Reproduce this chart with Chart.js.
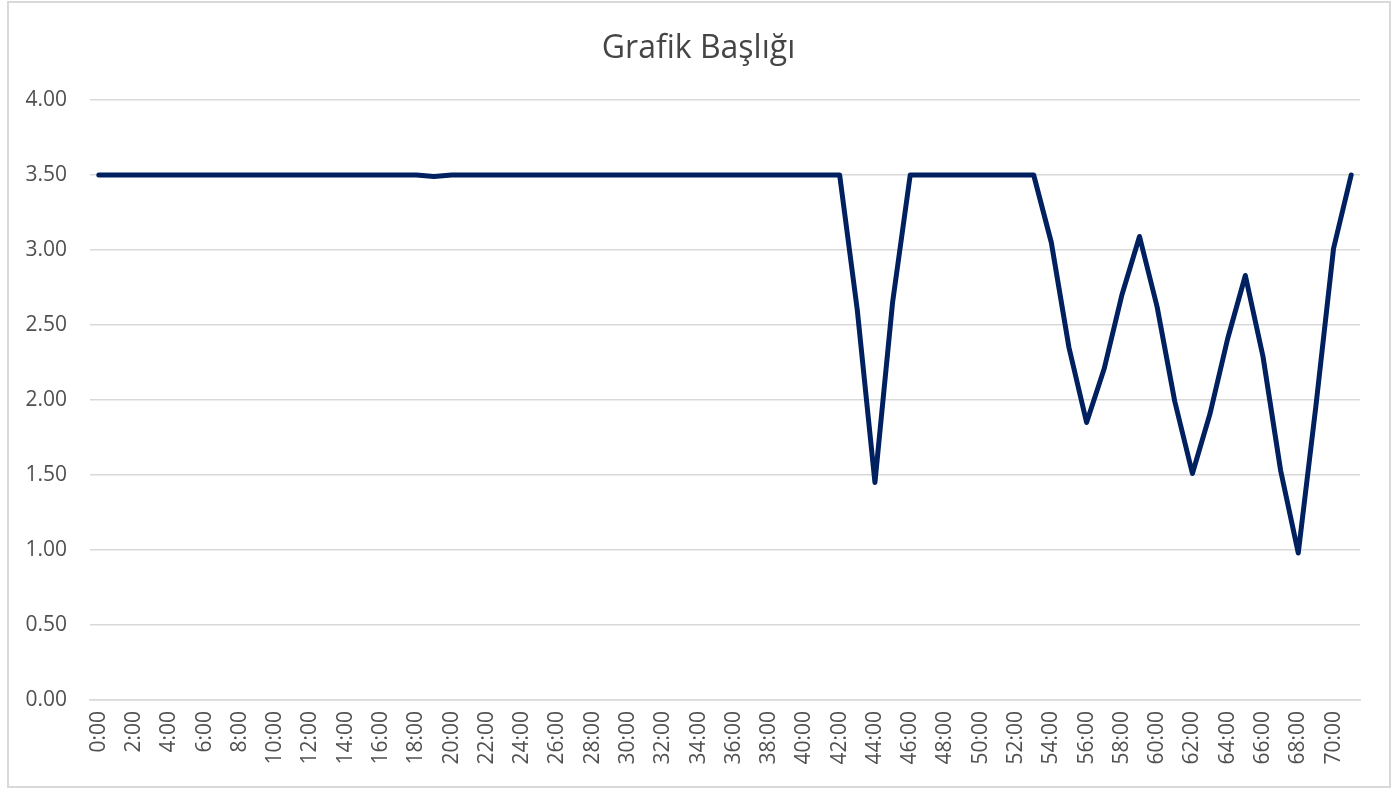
<!DOCTYPE html>
<html>
<head>
<meta charset="utf-8">
<script src="https://cdn.jsdelivr.net/npm/chart.js@4/dist/chart.umd.min.js"></script>
<style>
  html, body { margin: 0; padding: 0; background: #ffffff; }
  #frame { position: absolute; left: 7px; top: 1px; width: 1384px; height: 787px; box-sizing: border-box; border: 2px solid #d9d9d9; }
  #c { position: absolute; left: 0; top: 0; }
</style>
</head>
<body>
<div id="frame"></div>
<canvas id="c" width="1393" height="789"></canvas>
<script>
const titleText = "Grafik Başlığı";
const categories = [
  "0:00","1:00","2:00","3:00","4:00","5:00","6:00","7:00","8:00","9:00",
  "10:00","11:00","12:00","13:00","14:00","15:00","16:00","17:00","18:00","19:00",
  "20:00","21:00","22:00","23:00","24:00","25:00","26:00","27:00","28:00","29:00",
  "30:00","31:00","32:00","33:00","34:00","35:00","36:00","37:00","38:00","39:00",
  "40:00","41:00","42:00","43:00","44:00","45:00","46:00","47:00","48:00","49:00",
  "50:00","51:00","52:00","53:00","54:00","55:00","56:00","57:00","58:00","59:00",
  "60:00","61:00","62:00","63:00","64:00","65:00","66:00","67:00","68:00","69:00",
  "70:00","71:00"
];
const seriesValues = [
  3.5,3.5,3.5,3.5,3.5,3.5,3.5,3.5,3.5,3.5,
  3.5,3.5,3.5,3.5,3.5,3.5,3.5,3.5,3.5,3.49,
  3.5,3.5,3.5,3.5,3.5,3.5,3.5,3.5,3.5,3.5,
  3.5,3.5,3.5,3.5,3.5,3.5,3.5,3.5,3.5,3.5,
  3.5,3.5,3.5,2.6,1.45,2.65,3.5,3.5,3.5,3.5,
  3.5,3.5,3.5,3.5,3.05,2.35,1.85,2.21,2.70,3.09,
  2.62,1.99,1.51,1.91,2.41,2.83,2.29,1.53,0.98,1.96,
  3.01,3.5
];
const yTickValues = [0, 0.5, 1, 1.5, 2, 2.5, 3, 3.5, 4];

const textColor = "#505050";
const titleColor = "#454545";
const gridColor = "#d9d9d9";
const fontFamily = "'Open Sans', sans-serif";

new Chart(document.getElementById("c"), {
  type: "line",
  data: {
    labels: categories,
    datasets: [{
      data: seriesValues,
      borderColor: "#002060",
      backgroundColor: "#002060",
      borderWidth: 5,
      pointRadius: 0,
      tension: 0,
      borderJoinStyle: "round",
      borderCapStyle: "round",
      fill: false
    }]
  },
  options: {
    responsive: false,
    animation: false,
    devicePixelRatio: 1,
    layout: { padding: { left: 4, right: 0, top: 0, bottom: 0 } },
    plugins: {
      legend: { display: false },
      tooltip: { enabled: false },
      title: {
        display: true,
        text: titleText,
        color: titleColor,
        font: { family: fontFamily, size: 32, weight: "normal" },
        padding: { top: 30, bottom: 31.6 }
      }
    },
    scales: {
      x: {
        offset: true,
        grid: { display: false, drawTicks: false },
        border: { display: true, color: gridColor, width: 1.5 },
        ticks: {
          color: textColor,
          font: { family: fontFamily, size: 21 },
          autoSkip: false,
          maxRotation: 90,
          minRotation: 90,
          padding: 11,
          callback: function (v, i) { return i % 2 === 0 ? categories[i] : ""; }
        },
        afterFit: function (scale) { scale.height = 89; }
      },
      y: {
        min: 0,
        max: 4,
        afterBuildTicks: function (scale) { scale.ticks = yTickValues.map(v => ({ value: v })); },
        grid: { color: gridColor, lineWidth: 1.5, drawTicks: false },
        border: { display: false },
        ticks: {
          color: textColor,
          font: { family: fontFamily, size: 21 },
          padding: 23,
          callback: function (v) { return Number(v).toFixed(2); }
        },
        afterFit: function (scale) { scale.width = 86; }
      },
      yRight: {
        position: "right",
        display: true,
        min: 0,
        max: 4,
        grid: { display: false, drawTicks: false },
        border: { display: false },
        ticks: { display: false },
        afterFit: function (scale) { scale.width = 33; }
      }
    }
  }
});
</script>
</body>
</html>
